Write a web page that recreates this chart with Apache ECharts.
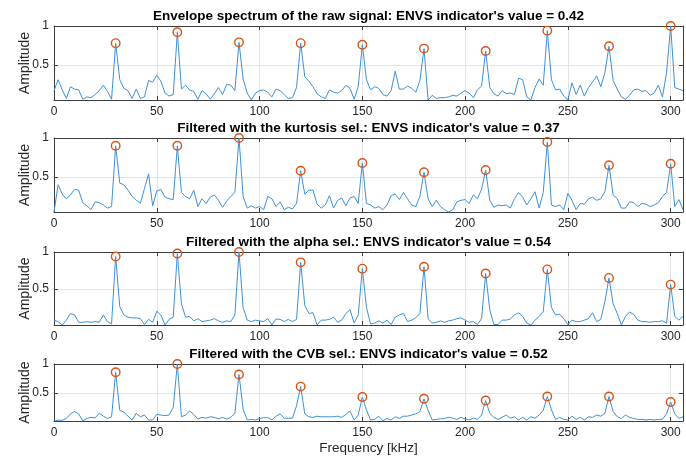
<!DOCTYPE html>
<html>
<head>
<meta charset="utf-8">
<script src="https://cdn.jsdelivr.net/npm/echarts@6/dist/echarts.min.js"></script>
<style>
  html, body { margin: 0; padding: 0; background: #ffffff; }
  #chart { width: 686px; height: 456px; }
</style>
</head>
<body>
<div id="chart"></div>
<script>
// Spectral bin spacing and frequency range (kHz)
const freqStep = 2;
const freqMin = 0;
const freqMax = 306;

// Tick labels
const xTicks = [0, 50, 100, 150, 200, 250, 300];
const yTicks = [0.5, 1];

// Fault characteristic frequency and its harmonics (kHz)
const peakFreqs = [30, 60, 90, 120, 150, 180, 210, 240, 270, 300];

const panelTitles = [
  "Envelope spectrum of the raw signal: ENVS indicator's value = 0.42",
  "Filtered with the kurtosis sel.: ENVS indicator's value = 0.37",
  "Filtered with the alpha sel.: ENVS indicator's value = 0.54",
  "Filtered with the CVB sel.: ENVS indicator's value = 0.52"
];

// Normalised envelope spectra, one value per 2 kHz bin from 0 to 306 kHz
const rawEnv = [
  0.17,0.31,0.18,0.07,0.22,0.19,0.18,0.06,0.09,0.08,
  0.12,0.17,0.24,0.16,0.06,0.78,0.31,0.20,0.17,0.07,
  0.19,0.07,0.09,0.30,0.28,0.37,0.29,0.14,0.10,0.12,
  0.92,0.19,0.24,0.18,0.16,0.06,0.17,0.13,0.06,0.13,
  0.21,0.12,0.25,0.24,0.17,0.79,0.32,0.14,0.05,0.14,
  0.17,0.18,0.15,0.09,0.19,0.17,0.12,0.07,0.08,0.21,
  0.78,0.35,0.29,0.22,0.13,0.09,0.07,0.18,0.15,0.14,
  0.17,0.24,0.20,0.06,0.22,0.76,0.31,0.18,0.22,0.20,
  0.12,0.10,0.17,0.42,0.19,0.19,0.23,0.20,0.15,0.30,
  0.71,0.05,0.11,0.07,0.08,0.08,0.09,0.11,0.10,0.14,
  0.17,0.14,0.08,0.18,0.23,0.68,0.21,0.13,0.10,0.17,
  0.13,0.14,0.12,0.33,0.31,0.09,0.05,0.21,0.32,0.24,
  0.94,0.31,0.18,0.19,0.10,0.05,0.27,0.12,0.24,0.10,
  0.21,0.28,0.36,0.22,0.40,0.74,0.30,0.19,0.09,0.06,
  0.11,0.18,0.19,0.16,0.17,0.11,0.14,0.24,0.09,0.40,
  1.00,0.21,0.19,0.17
];

const kurtosisEnv = [
  0.05,0.40,0.28,0.22,0.27,0.34,0.33,0.17,0.13,0.08,
  0.18,0.17,0.14,0.10,0.12,0.90,0.42,0.40,0.33,0.25,
  0.20,0.16,0.35,0.54,0.13,0.32,0.34,0.24,0.22,0.21,
  0.90,0.30,0.25,0.22,0.33,0.12,0.22,0.16,0.24,0.27,
  0.20,0.11,0.19,0.25,0.30,1.00,0.25,0.10,0.13,0.10,
  0.12,0.08,0.25,0.22,0.12,0.18,0.08,0.11,0.09,0.16,
  0.58,0.28,0.33,0.33,0.15,0.10,0.14,0.26,0.10,0.20,
  0.23,0.13,0.23,0.25,0.16,0.68,0.16,0.14,0.10,0.12,
  0.08,0.14,0.26,0.28,0.21,0.30,0.22,0.14,0.12,0.25,
  0.56,0.22,0.12,0.20,0.12,0.08,0.05,0.08,0.18,0.20,
  0.21,0.16,0.27,0.22,0.34,0.59,0.20,0.11,0.14,0.13,
  0.14,0.10,0.22,0.30,0.24,0.14,0.22,0.31,0.10,0.30,
  0.95,0.14,0.12,0.14,0.08,0.29,0.20,0.08,0.16,0.15,
  0.22,0.24,0.20,0.22,0.31,0.65,0.27,0.22,0.10,0.10,
  0.18,0.17,0.12,0.16,0.15,0.12,0.14,0.17,0.25,0.30,
  0.67,0.12,0.21,0.08
];

const alphaEnv = [
  0.08,0.06,0.014,0.08,0.17,0.15,0.05,0.05,0.06,0.05,
  0.06,0.05,0.15,0.06,0.03,0.94,0.26,0.15,0.12,0.11,
  0.11,0.10,0.02,0.09,0.05,0.20,0.15,0.014,0.09,0.12,
  0.98,0.30,0.12,0.13,0.07,0.10,0.06,0.07,0.08,0.10,
  0.07,0.05,0.07,0.06,0.15,1.00,0.25,0.08,0.06,0.08,
  0.07,0.06,0.10,0.014,0.095,0.09,0.06,0.09,0.06,0.09,
  0.86,0.28,0.17,0.18,0.014,0.08,0.08,0.09,0.12,0.05,
  0.08,0.17,0.22,0.04,0.15,0.775,0.25,0.03,0.04,0.07,
  0.04,0.08,0.02,0.12,0.15,0.17,0.06,0.08,0.11,0.17,
  0.80,0.10,0.04,0.05,0.07,0.05,0.07,0.08,0.10,0.11,
  0.08,0.05,0.06,0.02,0.10,0.71,0.22,0.02,0.02,0.08,
  0.08,0.095,0.15,0.18,0.13,0.04,0.014,0.08,0.13,0.19,
  0.765,0.25,0.15,0.16,0.10,0.02,0.08,0.06,0.06,0.08,
  0.10,0.18,0.06,0.09,0.33,0.65,0.30,0.17,0.014,0.13,
  0.19,0.16,0.08,0.06,0.06,0.05,0.06,0.06,0.07,0.04,
  0.56,0.13,0.08,0.13
];

const cvbEnv = [
  0.017,0.03,0.03,0.06,0.14,0.18,0.14,0.02,0.06,0.08,
  0.07,0.15,0.10,0.06,0.09,0.857,0.20,0.17,0.10,0.035,
  0.15,0.09,0.12,0.035,0.035,0.13,0.12,0.11,0.12,0.25,
  1.00,0.09,0.12,0.19,0.13,0.05,0.08,0.065,0.09,0.08,
  0.055,0.08,0.05,0.08,0.15,0.82,0.22,0.035,0.045,0.035,
  0.06,0.075,0.075,0.035,0.10,0.14,0.065,0.065,0.065,0.28,
  0.61,0.14,0.09,0.08,0.10,0.09,0.09,0.09,0.09,0.10,
  0.08,0.13,0.19,0.035,0.12,0.43,0.21,0.035,0.045,0.10,
  0.02,0.06,0.035,0.09,0.06,0.10,0.10,0.12,0.14,0.18,
  0.40,0.20,0.035,0.045,0.055,0.06,0.08,0.065,0.045,0.08,
  0.05,0.035,0.065,0.045,0.12,0.37,0.15,0.08,0.045,0.08,
  0.12,0.065,0.09,0.035,0.08,0.035,0.09,0.065,0.12,0.20,
  0.44,0.21,0.045,0.08,0.045,0.035,0.10,0.045,0.08,0.035,
  0.09,0.08,0.12,0.10,0.15,0.44,0.18,0.09,0.06,0.12,
  0.08,0.06,0.045,0.045,0.035,0.045,0.035,0.045,0.045,0.14,
  0.345,0.14,0.06,0.09
];

const spectra = [rawEnv, kurtosisEnv, alphaEnv, cvbEnv];

// Panel placement
const panelBoxes = [
  { top: 26, height: 74 },
  { top: 138, height: 74 },
  { top: 252, height: 73 },
  { top: 364, height: 57 }
];

const FONT = '"Liberation Sans", Arial, Helvetica, sans-serif';
const TEXT = '#262626';
const AXIS = '#3c3c3c';
const GRIDC = '#e3e3e3';
const LINE = '#3d90d6';
const PEAK = '#D95319';

const grid = [], xAxis = [], yAxis = [], series = [];

spectra.forEach((vals, i) => {
  const yMin = Math.min.apply(null, vals);
  const yMax = Math.max.apply(null, vals);
  const last = i === spectra.length - 1;

  grid.push({ left: 54, right: 3, top: panelBoxes[i].top, height: panelBoxes[i].height, outerBoundsMode: 'none' });

  // bottom axis (labels) and top axis (panel title + mirrored ticks)
  xAxis.push({
    gridIndex: i, type: 'value', position: 'bottom', min: freqMin, max: freqMax,
    name: last ? 'Frequency [kHz]' : '', nameLocation: 'middle', nameGap: 20, nameMoveOverlap: false,
    nameTextStyle: { fontFamily: FONT, fontSize: 13.5, color: TEXT },
    axisLine: { show: true, onZero: false, lineStyle: { color: AXIS, width: 1 } },
    axisTick: { show: true, inside: true, length: 4, customValues: xTicks, lineStyle: { color: AXIS } },
    axisLabel: { show: true, customValues: xTicks, margin: 6, fontFamily: FONT, fontSize: 12, color: TEXT },
    splitLine: { show: true, lineStyle: { color: GRIDC, width: 1 } }
  });
  xAxis.push({
    gridIndex: i, type: 'value', position: 'top', min: freqMin, max: freqMax,
    name: panelTitles[i], nameLocation: 'middle', nameGap: 3, nameMoveOverlap: false,
    nameTextStyle: { fontFamily: FONT, fontSize: 13.5, fontWeight: 'bold', color: '#000000' },
    axisLine: { show: true, onZero: false, lineStyle: { color: AXIS, width: 1 } },
    axisTick: { show: true, inside: true, length: 4, customValues: xTicks, lineStyle: { color: AXIS } },
    axisLabel: { show: false },
    splitLine: { show: false }
  });

  // left axis (labels + name) and right axis (mirrored ticks)
  yAxis.push({
    gridIndex: i, type: 'value', position: 'left', min: yMin, max: yMax,
    name: 'Amplitude', nameLocation: 'middle', nameGap: 22, nameRotate: 90, nameMoveOverlap: false,
    nameTextStyle: { fontFamily: FONT, fontSize: 14, color: TEXT },
    axisLine: { show: true, onZero: false, lineStyle: { color: AXIS, width: 1 } },
    axisTick: { show: true, inside: true, length: 4, customValues: yTicks, lineStyle: { color: AXIS } },
    axisLabel: { show: true, customValues: yTicks, margin: 5, fontFamily: FONT, fontSize: 12, color: TEXT,
                 formatter: v => String(v) },
    splitLine: { show: true, lineStyle: { color: GRIDC, width: 1 } }
  });
  yAxis.push({
    gridIndex: i, type: 'value', position: 'right', min: yMin, max: yMax,
    axisLine: { show: true, onZero: false, lineStyle: { color: AXIS, width: 1 } },
    axisTick: { show: true, inside: true, length: 4, customValues: yTicks, lineStyle: { color: AXIS } },
    axisLabel: { show: false },
    splitLine: { show: false }
  });

  series.push({
    type: 'line', xAxisIndex: 2 * i, yAxisIndex: 2 * i,
    data: vals.map((v, k) => [freqMin + k * freqStep, v]),
    showSymbol: false, symbol: 'none', silent: true, animation: false,
    lineStyle: { color: LINE, width: 1 }, z: 3
  });
  series.push({
    type: 'scatter', xAxisIndex: 2 * i, yAxisIndex: 2 * i,
    data: peakFreqs.map(f => [f, vals[(f - freqMin) / freqStep]]),
    symbol: 'circle', symbolSize: 8.5, silent: true, animation: false,
    itemStyle: { color: 'rgba(0,0,0,0)', borderColor: PEAK, borderWidth: 1.4, opacity: 1 }, z: 4
  });
});

const chart = echarts.init(document.getElementById('chart'), null, { renderer: 'canvas' });
chart.setOption({
  backgroundColor: '#ffffff',
  animation: false,
  grid, xAxis, yAxis, series
});
</script>
</body>
</html>
